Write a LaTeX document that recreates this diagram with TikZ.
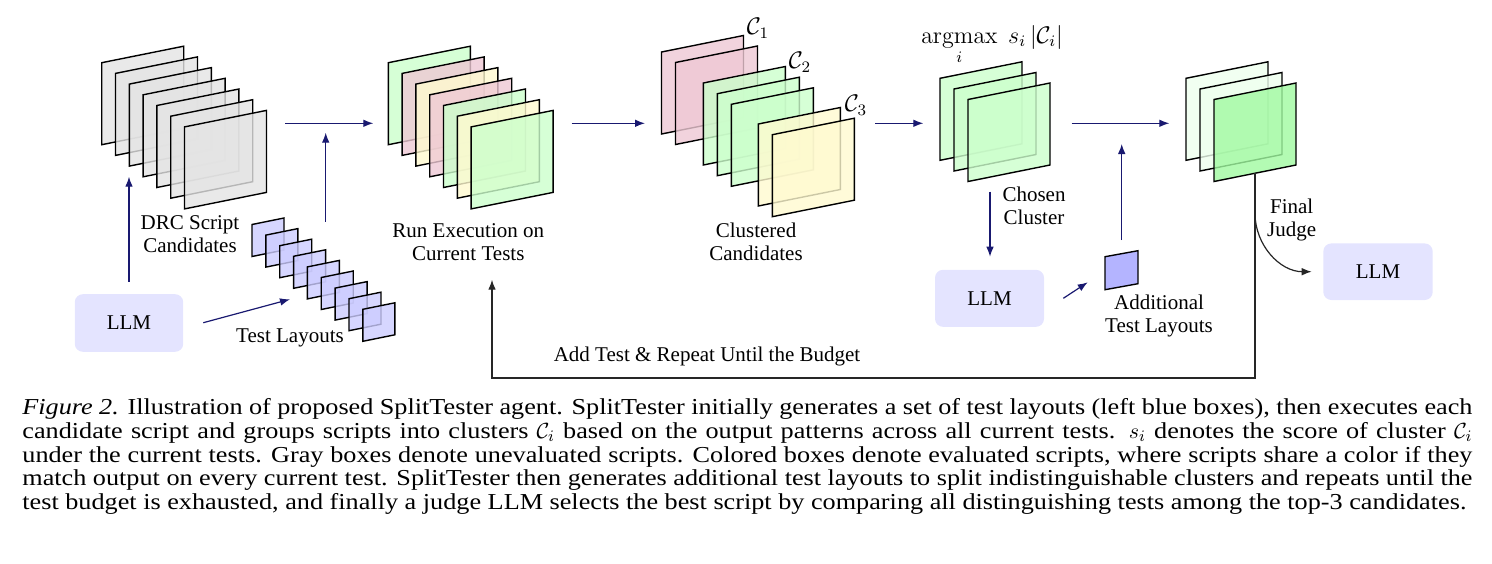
\documentclass[tikz,border=0pt]{standalone}
\usepackage{amsmath}
\usepackage[no-math]{fontspec}
\setmainfont{Liberation Serif}
\newfontfamily\capfont[FakeStretch=1.15]{Liberation Serif}
\usetikzlibrary{arrows.meta}
\definecolor{navyarr}{RGB}{25,25,112}
\definecolor{sgray}{RGB}{228,228,228}
\definecolor{sgreen}{RGB}{204,255,204}
\definecolor{spink}{RGB}{238,200,212}
\definecolor{syellow}{RGB}{255,250,208}
\definecolor{sblue}{RGB}{204,204,255}
\definecolor{sbluedark}{RGB}{180,180,255}
\definecolor{slgreen}{RGB}{238,255,238}
\definecolor{sbgreen}{RGB}{160,250,160}
\definecolor{llmfill}{RGB}{228,228,255}
\tikzset{
  sheet/.style={draw=black, line width=0.7pt, fill opacity=0.8, line join=miter},
  arr/.style={draw=navyarr, line width=0.6pt, -{Latex[length=5pt,width=3.8pt]}},
  blkarr/.style={draw=black!85, line width=0.6pt, -{Latex[length=5pt,width=3.8pt]}},
  lbl/.style={font=\fontsize{10.5}{11.5}\selectfont, align=center, inner sep=0pt},
  mlbl/.style={font=\fontsize{11.5}{12}\selectfont, inner sep=0pt},
  llm/.style={fill=llmfill, rounded corners=4pt, inner sep=0pt, font=\fontsize{10.5}{12}\selectfont},
  capline/.style={font=\capfont\fontsize{11.4}{13}\selectfont, inner sep=0pt, anchor=base west},
}
\newcommand\sheetL[3]{\filldraw[sheet,fill=#3] (#1,#2) -- ++(82,-16.5) -- ++(0,82) -- ++(-82,16.5) -- cycle;}
\newcommand\sheetS[3]{\filldraw[sheet,fill=#3] (#1,#2) -- ++(32,-6.5) -- ++(0,32) -- ++(-32,6.5) -- cycle;}
\begin{document}
\begin{tikzpicture}[x=0.5pt,y=-0.5pt]
\useasboundingbox (0,0) rectangle (1492,563);

% ---- DRC script candidates (gray)
\foreach \i in {0,...,6} {\sheetL{101.7+13.8*\i}{62.7+10.7*\i}{sgray}}
\node[lbl] (drc) at (190,234.5) {DRC Script\\Candidates};

% ---- test layouts (blue small)
\foreach \i in {0,...,8} {\sheetS{252+13.85*\i}{224.5+10.6*\i}{sblue}}
\node[lbl] (tl) at (290,338) {Test Layouts};

% ---- run execution stack
\foreach \c [count=\i from 0] in {sgreen,spink,syellow,spink,sgreen,syellow,sgreen}
  {\sheetL{388.3+13.8*\i}{62.7+10.7*\i}{\c}}
\node[lbl] (run) at (468.3,241.7) {Run Execution on\\Current Tests};

% ---- clustered candidates
\sheetL{661.5}{52}{spink}
\sheetL{675.5}{62.5}{spink}
\sheetL{703.3}{83}{sgreen}
\sheetL{717.3}{93.7}{sgreen}
\sheetL{731.3}{104.3}{sgreen}
\sheetL{758.3}{124}{syellow}
\sheetL{772.3}{134.7}{syellow}
\node[lbl] (clu) at (756,241.7) {Clustered\\Candidates};
\node[mlbl] (c1) at (758,28) {$\mathcal{C}_1$};
\node[mlbl] (c2) at (800,62) {$\mathcal{C}_2$};
\node[mlbl] (c3) at (856,105) {$\mathcal{C}_3$};

% ---- chosen cluster
\sheetL{940}{78.3}{sgreen}
\sheetL{954}{89}{sgreen}
\sheetL{968}{99.5}{sgreen}
\node[mlbl, anchor=base] (amax) at (992,43) {$\displaystyle\operatorname*{argmax}_i\; s_i\,|\mathcal{C}_i|$};
\node[lbl] (chosen) at (1034,205.5) {Chosen\\Cluster};

% ---- final stack
\sheetL{1186}{78.3}{slgreen}
\sheetL{1200}{89}{slgreen}
\sheetL{1214}{99.5}{sbgreen}

% ---- additional test layout
\filldraw[sheet,fill=sbluedark,fill opacity=1] (1105,256.7) -- ++(33,-6) -- ++(0,33) -- ++(-33,6) -- cycle;
\node[lbl] (addl) at (1159,315.7) {Additional\\Test Layouts};

% ---- LLM boxes
\node[llm, minimum width=54.2pt, minimum height=28.8pt] (llmA) at (129,323) {LLM};
\node[llm, minimum width=54.5pt, minimum height=28.5pt] (llmB) at (989.5,298.3) {LLM};
\node[llm, minimum width=54.7pt, minimum height=28.3pt] (llmC) at (1378,271.7) {LLM};

\node[lbl] (fj) at (1291.7,219.7) {Final\\Judge};
\node[lbl] (loopl) at (707,356) {Add Test \& Repeat Until the Budget};

% ---- coordinates for connectors
\coordinate (drcIn) at (129,176.7);
\coordinate (llmAout) at (203.3,322.7);
\coordinate (tlIn) at (290,299.3);
\coordinate (tlUp) at (325.7,221.7);
\coordinate (mergeTop) at (325.7,132.7);
\coordinate (drcOut) at (285,123.3);
\coordinate (runIn) at (373.3,123.3);
\coordinate (runOut) at (571.7,123.3);
\coordinate (cluIn) at (645,123.3);
\coordinate (cluOut) at (875,123.3);
\coordinate (choIn) at (923.3,123.3);
\coordinate (choOut) at (1071.7,123.3);
\coordinate (finIn) at (1169.3,123.3);
\coordinate (addUp) at (1121.7,240);
\coordinate (addTop) at (1121.7,144);
\coordinate (choDown) at (990,191.7);
\coordinate (llmBin) at (990,256.7);
\coordinate (llmBout) at (1063.3,298.3);
\coordinate (addIn) at (1087.7,282.3);
\coordinate (finBot) at (1255,173.3);
\coordinate (loopBR) at (1255,378);
\coordinate (loopBL) at (492,378);
\coordinate (runBack) at (492,279.7);
\coordinate (jStart) at (1255,213.3);
\coordinate (jEnd) at (1311.7,271.7);

% ---- connectors
\draw[arr, shorten <=6pt] (llmA.north) -- (drcIn);
\draw[arr] (llmAout) -- (tlIn);
\draw[arr] (tlUp) -- (mergeTop);
\draw[arr] (drcOut) -- (runIn);
\draw[arr] (runOut) -- (cluIn);
\draw[arr] (cluOut) -- (choIn);
\draw[arr] (choOut) -- (finIn);
\draw[arr] (addUp) -- (addTop);
\draw[arr] (choDown) -- (llmBin);
\draw[arr] (llmBout) -- (addIn);
\draw[blkarr] (finBot) -- (loopBR) -- (loopBL) -- (runBack);
\draw[blkarr] (jStart) to[out=-90,in=180] (jEnd);

% ---- caption
\node[capline] (cap1) at (22,414.7) {\makebox[725pt][s]{\textit{Figure 2.} Illustration of proposed SplitTester agent. SplitTester initially generates a set of test layouts (left blue boxes), then executes each}};
\node[capline] (cap2) at (22,438.4) {\makebox[725pt][s]{candidate script and groups scripts into clusters $\mathcal{C}_i$ based on the output patterns across all current tests. $s_i$ denotes the score of cluster $\mathcal{C}_i$}};
\node[capline] (cap3) at (22,462.1) {\makebox[725pt][s]{under the current tests. Gray boxes denote unevaluated scripts. Colored boxes denote evaluated scripts, where scripts share a color if they}};
\node[capline] (cap4) at (22,485.8) {\makebox[725pt][s]{match output on every current test. SplitTester then generates additional test layouts to split indistinguishable clusters and repeats until the}};
\node[capline] (cap5) at (22,509.5) {test budget is exhausted, and finally a judge LLM selects the best script by comparing all distinguishing tests among the top-3 candidates.};
\end{tikzpicture}
\end{document}
